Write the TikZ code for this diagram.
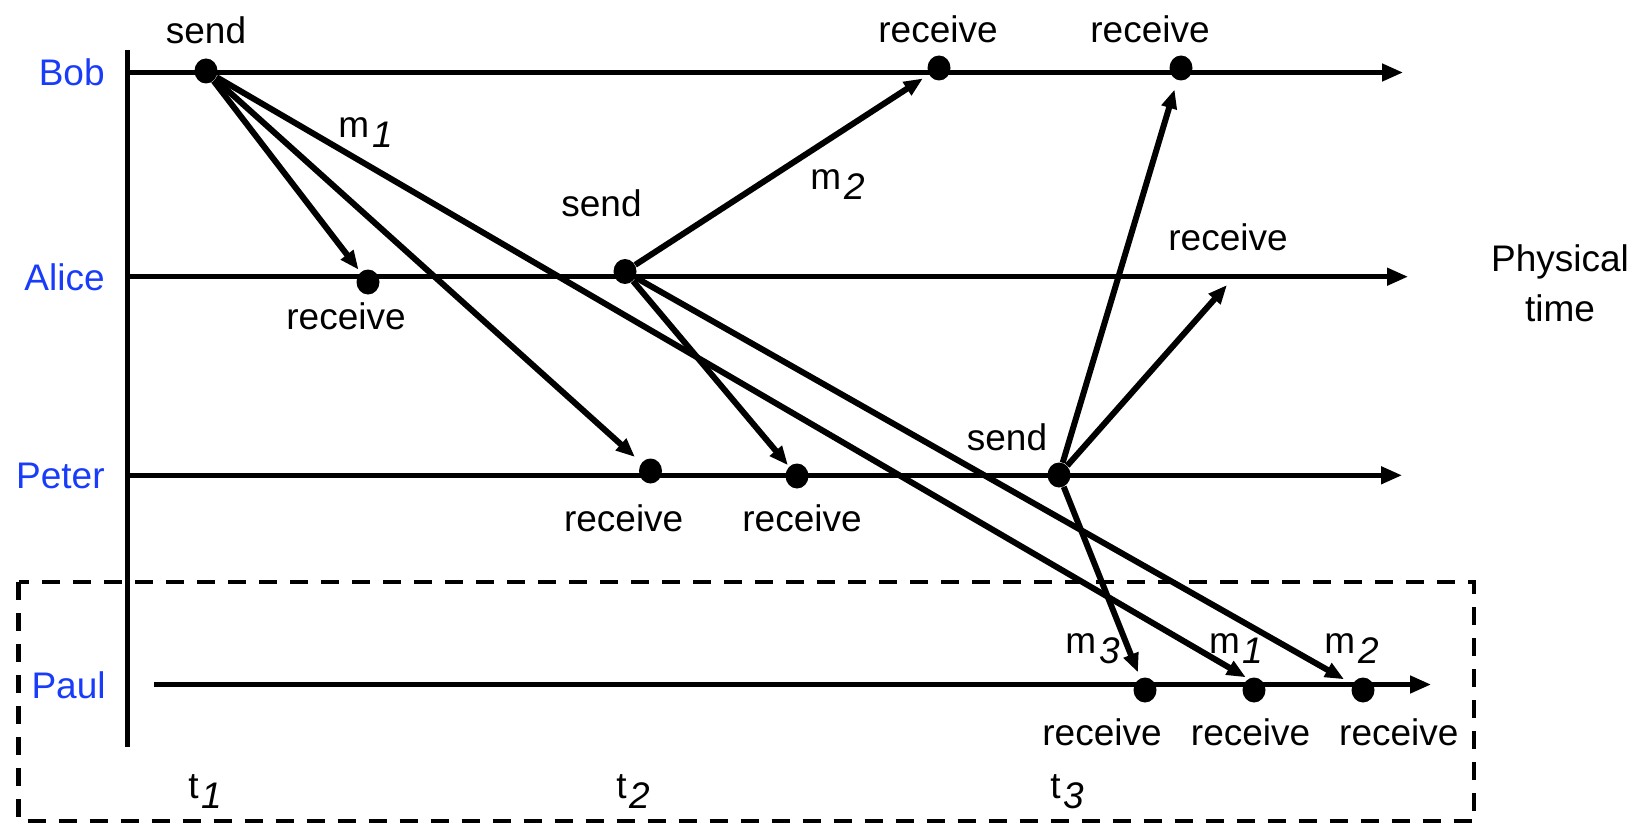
\documentclass[tikz,border=0pt]{standalone}
\usepackage{fontspec}
\setmainfont{Liberation Sans}
\usetikzlibrary{arrows.meta,shapes.geometric}
\definecolor{namecol}{RGB}{25,60,250}
% letter followed by a lowered italic index, e.g. m_1, t_2
\newcommand{\idx}[2]{#1\kern1.5pt\raisebox{-5pt}{\itshape #2}}

\begin{document}
\begin{tikzpicture}[x=0.5pt,y=-0.5pt,
  every node/.style={font=\fontsize{18.5}{22}\selectfont, inner sep=0pt},
  lifeline/.style={line width=2.3pt,-{Triangle[length=10.5pt,width=8.5pt]}},
  msg/.style={line width=3pt,-{Triangle[length=9.5pt,width=7.5pt]}},
  event/.style={ellipse,fill=black,minimum width=11.5pt,minimum height=12.5pt,inner sep=0pt},
  procname/.style={anchor=base east,text=namecol},
  evlabel/.style={anchor=base},
  idxlabel/.style={anchor=base west}]

\useasboundingbox (0,0) rectangle (1638,824);

% time axis and lifelines
\coordinate (axtop) at (127.5,50);
\coordinate (axbot) at (127.5,747);
\coordinate (bob0) at (127.5,72.5);   \coordinate (bob1) at (1403,72.5);
\coordinate (alice0) at (127.5,276.7); \coordinate (alice1) at (1408,276.7);
\coordinate (peter0) at (127.5,475.3); \coordinate (peter1) at (1402,475.3);
\coordinate (paul0) at (154,684.5);   \coordinate (paul1) at (1431,684.5);

\draw[line width=2.1pt] (axtop) -- (axbot);
\draw[lifeline] (bob0) -- (bob1);
\draw[lifeline] (alice0) -- (alice1);
\draw[lifeline] (peter0) -- (peter1);
\draw[lifeline] (paul0) -- (paul1);

% dashed frame around Paul
\draw[line width=2.2pt,dash pattern=on 9pt off 6.5pt] (18.5,582) rectangle (1474,821);

% process names
\node[procname] (nbob) at (105,86) {Bob};
\node[procname] (nalice) at (105,290) {Alice};
\node[procname] (npeter) at (105,488) {Peter};
\node[procname] (npaul) at (106,698) {Paul};

% events
\node[event] (bs)  at (206,71) {};
\node[event] (br1) at (939,68) {};
\node[event] (br2) at (1181,68) {};
\node[event] (ar1) at (368,282) {};
\node[event] (as)  at (625,271.5) {};
\coordinate (ar2) at (1227,285);
\node[event] (pr1) at (650.5,471) {};
\node[event] (pr2) at (797,476) {};
\node[event] (ps)  at (1059,475) {};
\node[event] (qr1) at (1145,690) {};
\node[event] (qr2) at (1254,690) {};
\node[event] (qr3) at (1363,690) {};

% messages
\draw[msg,shorten >=1.5pt] (bs) -- (ar1);
\draw[msg,shorten >=4.3pt] (bs) -- (pr1);
\draw[msg,shorten >=1.4pt] (bs) -- (qr2.117);
\draw[msg,shorten >=3.5pt] (as) -- (br1);
\draw[msg,shorten >=0.8pt] (as) -- (pr2);
\draw[msg,shorten >=4.8pt] (as) -- (qr3);
\draw[msg,shorten >=4.8pt] (ps) -- (br2);
\draw[msg] (ps) -- (ar2);
\draw[msg,shorten >=3.1pt] (ps) -- (qr1);

% event labels
\node[evlabel] (lbs)  at (206,43.3) {send};
\node[evlabel] (lbr1) at (938,42.7) {receive};
\node[evlabel] (lbr2) at (1150,42.7) {receive};
\node[evlabel] (lar1) at (346,329) {receive};
\node[evlabel] (las)  at (601.5,216) {send};
\node[evlabel] (lar2) at (1228,250) {receive};
\node[evlabel] (lpr1) at (623.7,531.7) {receive};
\node[evlabel] (lpr2) at (802,531.7) {receive};
\node[evlabel] (lps)  at (1007,450) {send};
\node[evlabel] (lqr1) at (1102,745) {receive};
\node[evlabel] (lqr2) at (1250.6,745) {receive};
\node[evlabel] (lqr3) at (1398.8,745) {receive};

% message names
\node[idxlabel] (mA) at (338,138) {\idx{m}{1}};
\node[idxlabel] (mB) at (810,190) {\idx{m}{2}};
\node[idxlabel] (mC) at (1065,653) {\idx{m}{3}};
\node[idxlabel] (mD) at (1208.6,653) {\idx{m}{1}};
\node[idxlabel] (mE) at (1324,653) {\idx{m}{2}};

% time marks
\node[idxlabel] (t1) at (188,798) {\idx{t}{1}};
\node[idxlabel] (t2) at (616,798) {\idx{t}{2}};
\node[idxlabel] (t3) at (1050,798) {\idx{t}{3}};

% axis caption
\node[align=center,font=\fontsize{18.5}{25}\selectfont] (phys) at (1560,283) {Physical\\time};
\end{tikzpicture}
\end{document}
